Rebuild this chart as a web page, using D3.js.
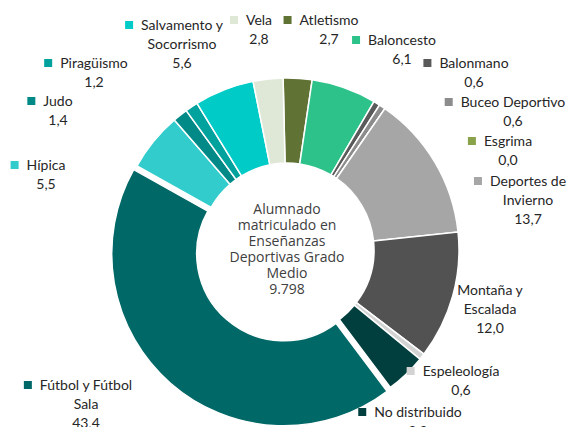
<!DOCTYPE html>
<html>
<head>
<meta charset="utf-8">
<script src="https://cdn.jsdelivr.net/npm/d3@7"></script>
<style>
  body { margin: 0; background: #fff; }
  svg { display: block; }
</style>
</head>
<body>
<script>
var width = 571,
    height = 427,
    cx = 287, cy = 250,
    outerRadius = 172,
    innerRadius = 87;

// data (% of students), clockwise from the top
var categories = ["Atletismo", "Baloncesto", "Balonmano", "Buceo Deportivo", "Esgrima",
    "Deportes de\nInvierno", "Montaña y\nEscalada", "Espeleología", "No distribuido",
    "Fútbol y Fútbol\nSala", "Hípica", "Judo", "Piragüismo", "Salvamento y\nSocorrismo", "Vela"];
var values = [2.7, 6.1, 0.6, 0.6, 0.0, 13.7, 12.0, 0.6, 3.8, 43.4, 5.5, 1.4, 1.2, 5.6, 2.8];
var colors = ["#617334", "#2ec28b", "#5a5a5a", "#8c8c8c", "#8aa34a",
    "#a6a6a6", "#525252", "#d3d3d3", "#003f3e",
    "#006866", "#33cccc", "#008a87", "#00a29e", "#00cbc7", "#dfe7d6"];
var totalText = ["Alumnado", "matriculado en", "Enseñanzas", "Deportivas Grado", "Medio", "9.798"];

// label anchors: centre x of the text block, baseline of the first line
var labelPos = [[329, 25], [402, 45], [474, 68], [513, 107], [508, 146],
    [528, 186], [490, 295], [461, 376], [418, 417],
    [86, 390], [46, 170], [58, 106], [94, 68], [182, 30], [259, 25]];
var exploded = "Fútbol y Fútbol\nSala";

var svg = d3.select("body").append("svg")
    .attr("width", width)
    .attr("height", height);

var data = categories.map(function(c, i) { return {name: c, value: values[i], color: colors[i], pos: labelPos[i]}; });

var start = -1.3 * Math.PI / 180;
var pie = d3.pie()
    .sort(null)
    .value(function(d) { return d.value; })
    .startAngle(start)
    .endAngle(start + 2 * Math.PI);

var arc = d3.arc()
    .innerRadius(innerRadius)
    .outerRadius(outerRadius);

var g = svg.append("g")
    .attr("transform", "translate(" + cx + "," + cy + ")");

g.selectAll("path")
    .data(pie(data))
    .enter().append("path")
    .attr("d", arc)
    .attr("fill", function(d) { return d.data.color; })
    .attr("stroke", "#fff")
    .attr("stroke-width", 1.5)
    .attr("transform", function(d) {
        if (d.data.name != exploded) return null;
        var a = (d.startAngle + d.endAngle) / 2;
        return "translate(" + (Math.sin(a) * 5) + "," + (-Math.cos(a) * 5) + ")";
    });

// centre text
g.append("text")
    .attr("text-anchor", "middle")
    .attr("font-family", "'Open Sans', sans-serif")
    .attr("font-size", 14)
    .attr("fill", "#404040")
    .selectAll("tspan")
    .data(totalText)
    .enter().append("tspan")
    .attr("x", 0)
    .attr("y", function(d, i) { return -36 + i * 16; })
    .text(function(d) { return d; });

// data labels with legend keys
var fmt = d3.format(".1f");
var lineH = 19;

var labels = svg.append("g")
    .attr("font-family", "Lato, 'Open Sans', sans-serif")
    .attr("font-size", 14)
    .attr("fill", "#262626");

data.forEach(function(d) {
    var lines = d.name.split("\n").concat([fmt(d.value).replace(".", ",")]);
    var t = labels.append("text")
        .attr("text-anchor", "middle");
    lines.forEach(function(l, i) {
        t.append("tspan")
            .attr("x", d.pos[0])
            .attr("y", d.pos[1] + i * lineH)
            .text(l);
    });
    var w = t.select("tspan").node().getComputedTextLength();
    labels.append("rect")
        .attr("x", d.pos[0] - w / 2 - 16)
        .attr("y", d.pos[1] - 9)
        .attr("width", 8)
        .attr("height", 8)
        .attr("fill", d.color);
});
</script>
</body>
</html>
